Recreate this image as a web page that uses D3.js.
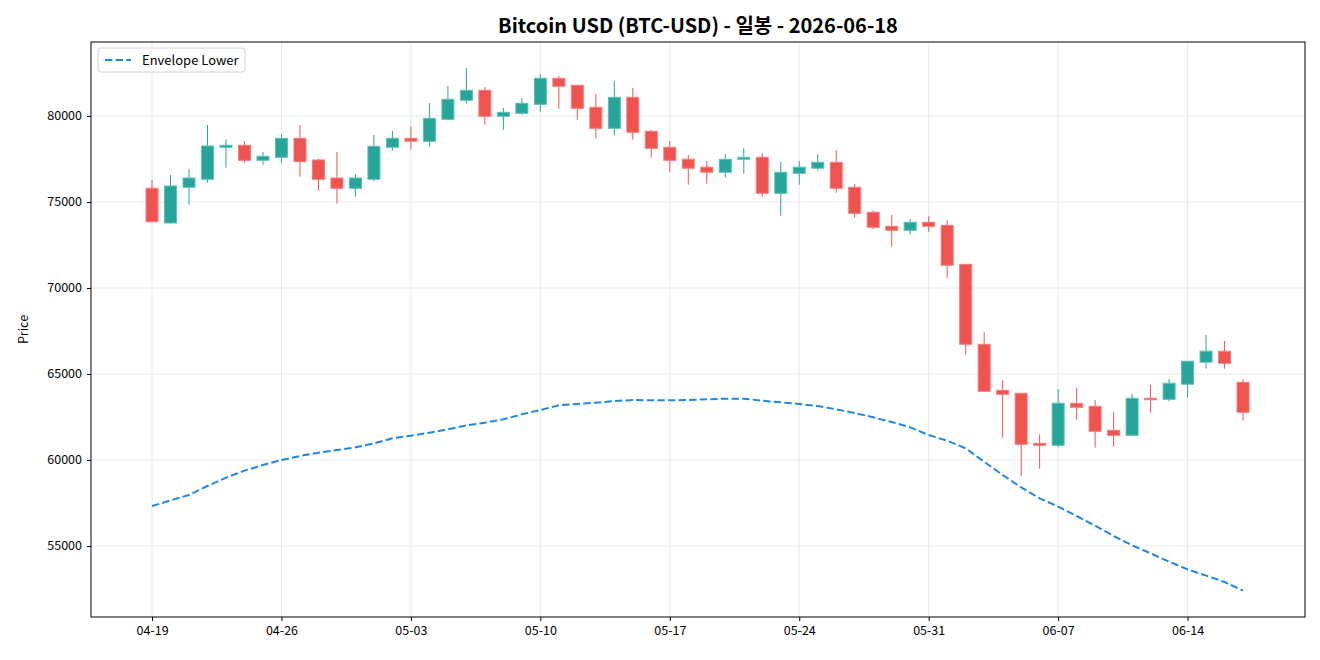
<!DOCTYPE html>
<html>
<head>
<meta charset="utf-8">
<script src="https://cdn.jsdelivr.net/npm/d3@7"></script>
<style>
  body { margin: 0; background: #fff; }
  svg { display: block; font-family: "Noto Sans CJK KR", "Noto Sans", sans-serif; }
</style>
</head>
<body>
<svg id="chart" width="1320" height="660"></svg>
<script>
const dates = ["04-19","04-20","04-21","04-22","04-23","04-24","04-25","04-26","04-27","04-28",
  "04-29","04-30","05-01","05-02","05-03","05-04","05-05","05-06","05-07","05-08",
  "05-09","05-10","05-11","05-12","05-13","05-14","05-15","05-16","05-17","05-18",
  "05-19","05-20","05-21","05-22","05-23","05-24","05-25","05-26","05-27","05-28",
  "05-29","05-30","05-31","06-01","06-02","06-03","06-04","06-05","06-06","06-07",
  "06-08","06-09","06-10","06-11","06-12","06-13","06-14","06-15","06-16","06-17"];
const open = [75800,73780,75855,76320,78180,78297,77424,77599,78703,77442,
  76395,75797,76320,78180,78703,78529,79808,80913,81494,79983,
  80157,80680,82192,81785,80506,79285,81087,79110,78180,77483,
  77023,76727,77483,77599,75506,76669,76965,77308,75855,74401,
  73587,73355,73820,73645,71378,66727,64052,63878,60971,60855,
  63297,63122,61727,61436,63587,63529,64407,65686,66320,64517];
const high = [76280,76570,76919,79477,78645,78547,77907,78953,79477,77518,
  77907,76628,78895,79128,79419,80756,81744,82791,81686,80465,
  81047,82442,82326,81802,81279,82035,81628,79203,78547,77733,
  77384,77791,78140,77849,77326,77384,77791,78023,76047,74494,
  74244,74012,74169,73936,71396,67424,64634,63895,61494,64116,
  64186,63489,62791,63837,64366,64709,65756,67267,66919,64692];
const low = [73797,73740,74843,76122,76994,77285,77169,77285,76471,75657,
  74901,75308,76221,77983,78041,78215,79750,80738,79494,79203,
  80076,80250,80424,79785,78680,78855,78622,77576,76762,76006,
  76070,76413,76645,75308,74203,76006,76820,75541,74087,73418,
  72401,73122,73273,70599,66122,63953,61297,59087,59494,60738,
  62343,60715,60773,61396,62750,63413,63622,65308,65308,62285];
const close = [73850,75930,76395,78256,78297,77424,77657,78703,77343,76320,
  75797,76395,78238,78703,78535,79866,80971,81494,79983,80215,
  80738,82192,81727,80448,79285,81087,79052,78122,77424,76965,
  76733,77483,77599,75506,76727,77023,77308,75797,74343,73529,
  73355,73820,73587,71320,66727,63994,63820,60913,60855,63297,
  63064,61669,61436,63587,63529,64459,65744,66326,65622,62773];
const envelopeLower = [57326,57650,57965,58488,58973,59380,59709,60000,60233,60427,
  60581,60737,60970,61260,61414,61590,61783,62016,62170,62364,
  62655,62907,63178,63256,63333,63430,63488,63469,63469,63488,
  63527,63566,63566,63450,63353,63256,63140,62946,62733,62481,
  62209,61899,61453,61120,60678,59900,59128,58410,57770,57290,
  56744,56180,55582,55040,54574,54090,53643,53275,52907,52400];
const xTickLabels = ["04-19","04-26","05-03","05-10","05-17","05-24","05-31","06-07","06-14"];
const yTicks = [55000,60000,65000,70000,75000,80000];
const title = "Bitcoin USD (BTC-USD) - 일봉 - 2026-06-18";
const yLabel = "Price";
const legendLabel = "Envelope Lower";

const UP = "#26a69a", DOWN = "#ef5350", ENV = "#1e88e5";
const svg = d3.select("#chart");
const L = 91, R = 1305, T = 42, B = 617;

const x = d3.scaleLinear().domain([-3.3, 62.35]).range([L, R]);
const y = d3.scaleLinear().domain([50872, 84302]).range([B, T]);

const idx = dates.map((d, i) => i);
const tickIdx = xTickLabels.map(l => dates.indexOf(l));

// grid
const g = svg.append("g");
g.selectAll("line.vg").data(tickIdx).join("line")
  .attr("x1", d => x(d)).attr("x2", d => x(d)).attr("y1", T).attr("y2", B)
  .attr("stroke", "#e3e3e3").attr("stroke-width", 0.8);
g.selectAll("line.hg").data(yTicks).join("line")
  .attr("x1", L).attr("x2", R).attr("y1", d => y(d)).attr("y2", d => y(d))
  .attr("stroke", "#e3e3e3").attr("stroke-width", 0.8);

// candles
const bw = 12;
const c = svg.append("g");
c.selectAll("line.wick").data(idx).join("line")
  .attr("x1", i => x(i)).attr("x2", i => x(i))
  .attr("y1", i => y(high[i])).attr("y2", i => y(low[i]))
  .attr("stroke", i => close[i] >= open[i] ? UP : DOWN).attr("stroke-width", 1);
c.selectAll("rect.body").data(idx).join("rect")
  .attr("x", i => x(i) - bw / 2)
  .attr("width", bw)
  .attr("y", i => y(Math.max(open[i], close[i])))
  .attr("height", i => Math.max(1.5, Math.abs(y(open[i]) - y(close[i]))))
  .attr("fill", i => close[i] >= open[i] ? UP : DOWN)
  .attr("stroke", i => close[i] >= open[i] ? "#5dbfb5" : "#f47c7a")
  .attr("stroke-width", 1);

// envelope
svg.append("path").datum(idx)
  .attr("d", d3.line().x(i => x(i)).y(i => y(envelopeLower[i])))
  .attr("fill", "none").attr("stroke", ENV).attr("stroke-width", 2)
  .attr("stroke-dasharray", "7.4,3.2");

// axes
const xAxis = d3.axisBottom(x).tickValues(tickIdx).tickFormat(i => dates[i]).tickSize(4).tickPadding(5);
const yAxis = d3.axisLeft(y).tickValues(yTicks).tickFormat(d3.format("d")).tickSize(4).tickPadding(5);
const ax = svg.append("g").attr("transform", `translate(0,${B})`).call(xAxis);
const ay = svg.append("g").attr("transform", `translate(${L},0)`).call(yAxis);
[ax, ay].forEach(a => {
  a.select(".domain").remove();
  a.selectAll("text").attr("font-size", 12.5).attr("fill", "#000")
    .attr("font-family", "'Noto Sans CJK KR', 'Noto Sans', sans-serif");
  a.selectAll("line").attr("stroke", "#000");
});

svg.append("rect").attr("x", L).attr("y", T).attr("width", R - L).attr("height", B - T)
  .attr("fill", "none").attr("stroke", "#000").attr("stroke-width", 1);

// title and label
svg.append("text").attr("x", (L + R) / 2).attr("y", 33).attr("text-anchor", "middle")
  .attr("font-size", 20).attr("font-weight", "bold").text(title);
svg.append("text").attr("transform", `translate(28,${(T + B) / 2}) rotate(-90)`)
  .attr("text-anchor", "middle").attr("font-size", 12.5).text(yLabel);

// legend
const lg = svg.append("g");
lg.append("rect").attr("x", 98).attr("y", 48).attr("width", 147).attr("height", 24)
  .attr("rx", 3).attr("fill", "#fff").attr("fill-opacity", 0.8)
  .attr("stroke", "#d0d0d0").attr("stroke-width", 1);
lg.append("line").attr("x1", 105).attr("x2", 131).attr("y1", 60).attr("y2", 60)
  .attr("stroke", ENV).attr("stroke-width", 2).attr("stroke-dasharray", "7.4,3.2");
lg.append("text").attr("x", 142).attr("y", 64.5).attr("font-size", 13).text(legendLabel);
</script>
</body>
</html>
